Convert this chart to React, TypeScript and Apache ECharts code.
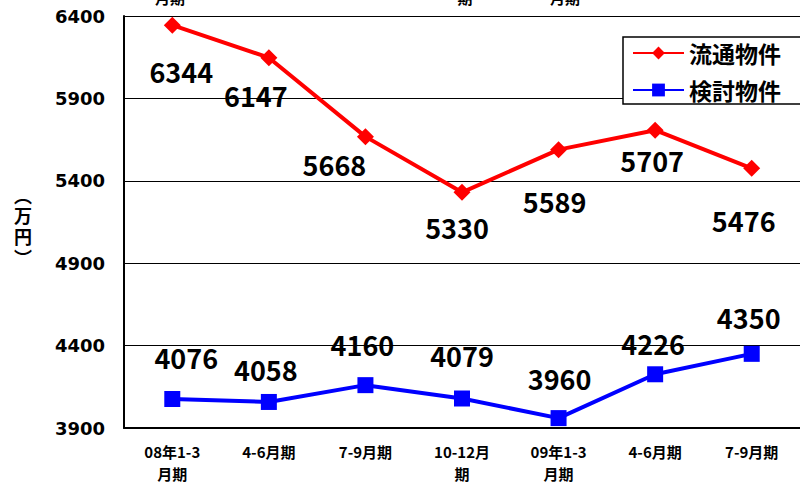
import React, { useEffect, useRef } from "react";
import * as echarts from "echarts";

// Quarter categories (two-line labels where the text wraps)
const categories = [
  "08年1-3\n月期",
  "4-6月期",
  "7-9月期",
  "10-12月\n期",
  "09年1-3\n月期",
  "4-6月期",
  "7-9月期",
];

// Average prices (万円)
const ryutsuValues = [6344, 6147, 5668, 5330, 5589, 5707, 5476];
const kentoValues = [4076, 4058, 4160, 4079, 3960, 4226, 4350];

const seriesNames = ["流通物件", "検討物件"];

// Value axis range and step
const yMin = 3900;
const yMax = 6400;
const yStep = 500;

// Unit caption, written top to bottom
const unitChars = [
  { ch: "︵", y: 195 },
  { ch: "万", y: 215 },
  { ch: "円", y: 236 },
  { ch: "︶", y: 257 },
];

// Value label placement relative to each marker
const ryutsuLabelOffsets = [
  [9, 46],
  [-13, 38],
  [-31, 28],
  [-5, 35],
  [-4, 52],
  [-3, 30],
  [-8, 52],
];
const kentoLabelOffsets = [
  [14, -41],
  [-3, -32],
  [-3, -41],
  [0, -43],
  [1, -40],
  [-2, -31],
  [-3, -36],
];

// Bottoms of the quarter labels belonging to the panel above, clipped at the top edge
const clippedTopLabels = [
  { text: "月期", x: 170 },
  { text: "期", x: 465 },
  { text: "月期", x: 565 },
];

const FONT = "'Noto Sans CJK JP', 'DejaVu Sans', sans-serif";

export default function App() {
  const ref = useRef<HTMLDivElement>(null);

  useEffect(() => {
    if (!ref.current) return;
    const chart = echarts.init(ref.current, null, { renderer: "svg" });

    const makeData = (values: number[], offsets: number[][]) =>
      values.map((v, i) => ({
        value: v,
        label: { offset: offsets[i] },
      }));

    const valueLabel = {
      show: true,
      position: "inside",
      color: "#000",
      fontFamily: FONT,
      fontWeight: "bold",
      fontSize: 27,
    };

    chart.setOption({
      animation: false,
      backgroundColor: "#fff",
      grid: {
        left: 124,
        top: 16,
        width: 686,
        height: 414,
        containLabel: false,
      },
      legend: {
        data: seriesNames,
        orient: "vertical",
        left: 623,
        top: 37,
        padding: [4, 40, 2, 9],
        itemWidth: 51,
        itemHeight: 16,
        itemGap: 13,
        itemTextGap: 5,
        backgroundColor: "#fff",
        borderColor: "#000",
        borderWidth: 1.5,
        borderRadius: 0,
        textStyle: {
          color: "#000",
          fontFamily: FONT,
          fontWeight: "bold",
          fontSize: 23,
          lineHeight: 24,
        },
      },
      xAxis: {
        type: "category",
        data: categories,
        boundaryGap: true,
        axisLine: { show: true, lineStyle: { color: "#000", width: 2 } },
        axisTick: { show: false },
        axisLabel: {
          interval: 0,
          margin: 12,
          color: "#000",
          fontFamily: FONT,
          fontWeight: "bold",
          fontSize: 15,
          lineHeight: 22,
        },
        splitLine: { show: false },
      },
      yAxis: {
        type: "value",
        min: yMin,
        max: yMax,
        interval: yStep,
        axisLine: { show: true, lineStyle: { color: "#000", width: 2 } },
        axisTick: { show: false },
        axisLabel: {
          margin: 19,
          color: "#000",
          fontFamily: "'DejaVu Sans', sans-serif",
          fontWeight: "bold",
          fontSize: 18,
          formatter: (v: number) => String(v),
        },
        splitLine: { show: true, lineStyle: { color: "#000", width: 1 } },
      },
      graphic: [
        ...unitChars.map((c) => ({
          type: "text",
          x: 23,
          y: c.y,
          style: {
            text: c.ch,
            fill: "#000",
            font: `bold 18px ${FONT}`,
            lineHeight: 18,
            align: "center",
            verticalAlign: "middle",
          },
        })),
        ...clippedTopLabels.map((t) => ({
          type: "text",
          x: t.x,
          y: 5,
          style: {
            text: t.text,
            fill: "#000",
            font: `bold 15px ${FONT}`,
            align: "center",
            verticalAlign: "bottom",
          },
        })),
      ],
      series: [
        {
          name: seriesNames[0],
          type: "line",
          data: makeData(ryutsuValues, ryutsuLabelOffsets),
          symbol: "diamond",
          symbolSize: 17,
          itemStyle: { color: "#ff0000" },
          lineStyle: { color: "#ff0000", width: 4 },
          label: valueLabel,
          z: 3,
        },
        {
          name: seriesNames[1],
          type: "line",
          data: makeData(kentoValues, kentoLabelOffsets),
          symbol: "rect",
          symbolSize: 16,
          itemStyle: { color: "#0000ff" },
          lineStyle: { color: "#0000ff", width: 4 },
          label: valueLabel,
          z: 3,
        },
      ],
    });

    return () => chart.dispose();
  }, []);

  return (
    <div
      ref={ref}
      style={{ position: "absolute", left: 0, top: 0, width: 800, height: 484 }}
    />
  );
}
